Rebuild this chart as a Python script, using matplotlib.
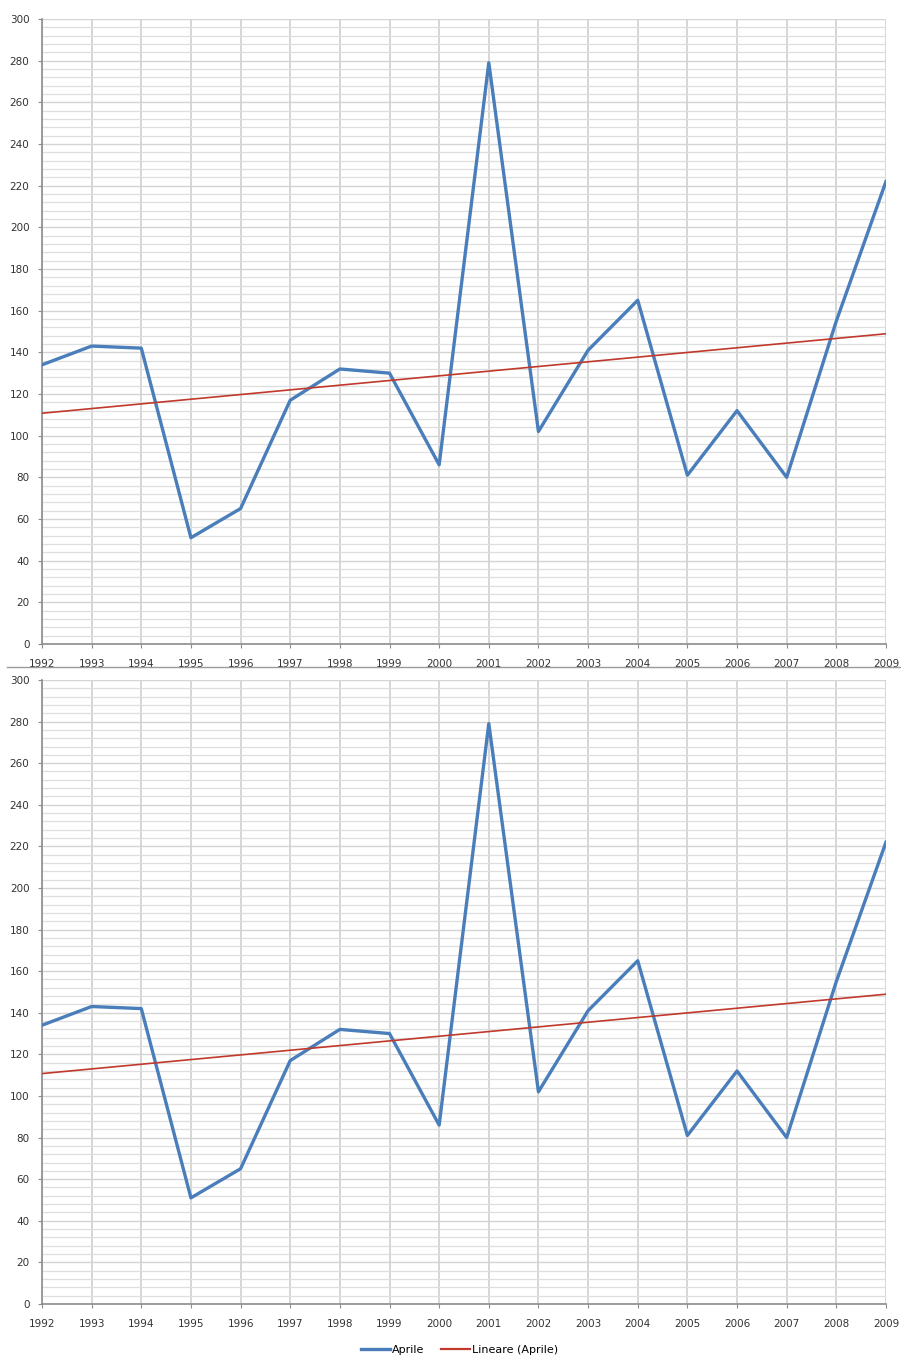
import numpy as np
import matplotlib.pyplot as plt
from matplotlib.lines import Line2D
from matplotlib.ticker import MultipleLocator

years = np.arange(1992, 2010)
aprile = [134, 143, 142, 51, 65, 117, 132, 130, 86, 279,
          102, 141, 165, 81, 112, 80, 155, 222]

# retta di tendenza (minimi quadrati)
coef = np.polyfit(years, aprile, 1)
trend = np.polyval(coef, years)

plt.rcParams['font.family'] = ['Liberation Sans Narrow', 'DejaVu Sans']

fig = plt.figure(figsize=(9.01, 13.58), dpi=100)
boxes = [[0.0466, 0.5258, 0.9367, 0.4602], [0.0466, 0.0398, 0.9367, 0.4595]]

for b in boxes:
    ax = fig.add_axes(b)
    ax.plot(years, aprile, color='#4a7ebb', lw=2.4, zorder=3)
    ax.plot(years, trend, color='#c0392b', lw=1.2, zorder=4)
    ax.set_xlim(1992, 2009)
    ax.set_ylim(0, 300)
    ax.set_xticks(years)
    ax.yaxis.set_major_locator(MultipleLocator(20))
    ax.yaxis.set_minor_locator(MultipleLocator(4))
    ax.grid(which='major', axis='y', color='#d4d4d4', lw=1.0)
    ax.grid(which='minor', axis='y', color='#dedede', lw=0.9)
    ax.grid(which='major', axis='x', color='#cfcfcf', lw=1.2)
    ax.set_axisbelow(True)
    for s in ['top', 'right']:
        ax.spines[s].set_visible(False)
    for s in ['left', 'bottom']:
        ax.spines[s].set_color('#8c8c8c')
        ax.spines[s].set_linewidth(1.2)
    ax.tick_params(which='major', length=3, color='#8c8c8c', labelsize=7.5,
                   labelcolor='#333333', pad=8)
    ax.tick_params(which='minor', length=0)
    ax.tick_params(axis='y', pad=6)

fig.add_artist(Line2D([0.008, 1.0], [1 - 667 / 1358, 1 - 667 / 1358],
                      color='#9a9a9a', lw=1.0))

handles = [Line2D([], [], color='#4a7ebb', lw=2.4),
           Line2D([], [], color='#c0392b', lw=1.6)]
fig.legend(handles, ['Aprile', 'Lineare (Aprile)'], loc='center',
           bbox_to_anchor=(0.51, 1 - 1350 / 1358), ncol=2, frameon=False,
           fontsize=8, handlelength=2.6, handletextpad=0.2, columnspacing=1.5)

fig.savefig('out.png', dpi=100)
